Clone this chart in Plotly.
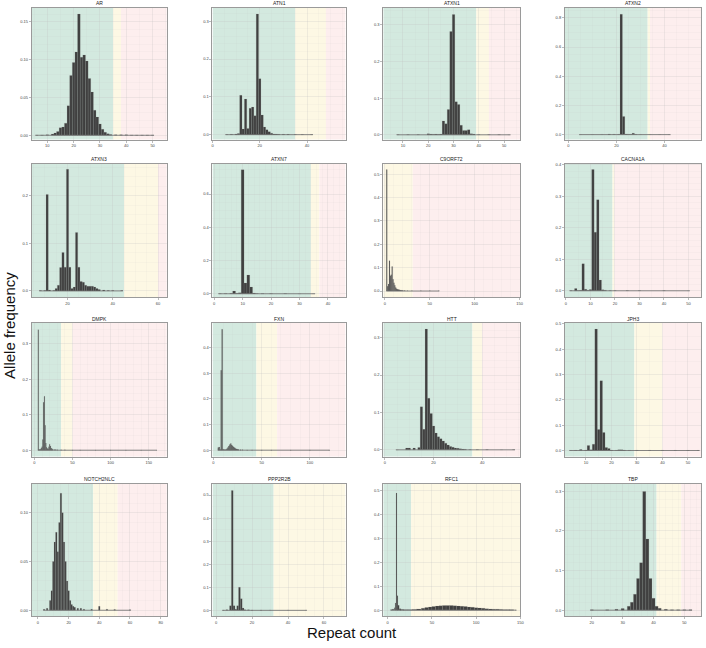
import plotly.graph_objects as go

W, H = 706, 648
COLS = [(31, 167), (213, 347), (385, 523), (568, 705)]
ROWS = [(6, 138), (162, 296), (322, 456), (483, 616)]

GREEN = "#d3e9df"
YELLOW = "#fdf8e4"
PINK = "#fdeeee"
BAR = "#404040"

# ---------------- data ----------------
AR_x = [6, 8, 10, 12, 13, 14, 15, 16, 17, 18, 19, 20, 21, 22, 23, 24, 25, 26, 27, 28, 29, 30, 31, 32, 33, 34, 36, 38, 40, 42, 44, 46, 48, 50]
AR_y = [0.0005, 0.0005, 0.0008, 0.0015, 0.003, 0.005, 0.010, 0.011, 0.016, 0.039, 0.079, 0.096, 0.110, 0.160, 0.103, 0.106, 0.098, 0.075, 0.057, 0.033, 0.024, 0.015, 0.008, 0.004, 0.002, 0.001, 0.0008, 0.0006, 0.0006, 0.0005, 0.0005, 0.0005, 0.0004, 0.0004]

ATN1_x = [6, 8, 10, 11, 12, 13, 14, 15, 16, 17, 18, 19, 20, 21, 22, 23, 24, 25, 26, 27, 28, 30, 32, 35, 38, 42]
ATN1_y = [0.0005, 0.001, 0.002, 0.003, 0.104, 0.015, 0.094, 0.016, 0.070, 0.073, 0.050, 0.319, 0.148, 0.052, 0.020, 0.013, 0.008, 0.004, 0.002, 0.0015, 0.001, 0.001, 0.0008, 0.0006, 0.0005, 0.0004]

ATXN1_x = [8, 12, 16, 20, 21, 22, 23, 24, 25, 26, 27, 28, 29, 30, 31, 32, 33, 34, 35, 36, 37, 38, 40, 44, 48, 52]
ATXN1_y = [0.0005, 0.0005, 0.0008, 0.003, 0.002, 0.0015, 0.002, 0.0015, 0.002, 0.038, 0.030, 0.069, 0.282, 0.328, 0.090, 0.083, 0.026, 0.012, 0.012, 0.014, 0.003, 0.002, 0.001, 0.0006, 0.0005, 0.0004]

ATXN2_x = [5, 10, 14, 17, 19, 21, 22, 23, 24, 25, 26, 27, 28, 30, 34, 38, 42]
ATXN2_y = [0.0008, 0.001, 0.0015, 0.004, 0.003, 0.002, 0.825, 0.125, 0.005, 0.003, 0.002, 0.010, 0.002, 0.001, 0.001, 0.0008, 0.0008]

ATXN3_x = [8, 10, 11, 12, 14, 15, 16, 17, 18, 19, 20, 21, 22, 23, 24, 25, 26, 27, 28, 29, 30, 31, 32, 33, 34, 36, 38, 40, 44]
ATXN3_y = [0.001, 0.001, 0.203, 0.002, 0.001, 0.005, 0.012, 0.049, 0.081, 0.050, 0.256, 0.050, 0.005, 0.008, 0.123, 0.050, 0.020, 0.018, 0.012, 0.010, 0.010, 0.010, 0.008, 0.005, 0.003, 0.002, 0.001, 0.001, 0.0008]

ATXN7_x = [2, 4, 6, 7, 8, 9, 10, 11, 12, 13, 14, 15, 17, 20, 25, 30, 35]
ATXN7_y = [0.001, 0.002, 0.003, 0.016, 0.003, 0.006, 0.747, 0.065, 0.113, 0.041, 0.004, 0.002, 0.001, 0.001, 0.001, 0.0008, 0.0008]

C9ORF72_x = [2, 3, 4, 5, 6, 7, 8, 9, 10, 11, 12, 13, 14, 15, 16, 17, 18, 19, 20, 22, 25, 30, 40, 50, 60]
C9ORF72_y = [0.52, 0.02, 0.03, 0.13, 0.065, 0.07, 0.105, 0.05, 0.035, 0.025, 0.015, 0.01, 0.008, 0.006, 0.005, 0.004, 0.003, 0.003, 0.002, 0.002, 0.0015, 0.001, 0.001, 0.0008, 0.0008]

CACNA1A_x = [2, 4, 5, 6, 7, 8, 9, 10, 11, 12, 13, 14, 15, 16, 18, 20, 25, 30, 40, 50]
CACNA1A_y = [0.001, 0.007, 0.001, 0.002, 0.086, 0.005, 0.002, 0.004, 0.385, 0.186, 0.289, 0.034, 0.003, 0.002, 0.001, 0.001, 0.0008, 0.0008, 0.0006, 0.0005]

DMPK_x = [5, 6, 7, 8, 9, 10, 11, 12, 13, 14, 15, 16, 17, 18, 19, 20, 21, 22, 23, 24, 26, 28, 30, 35, 40, 50, 60, 80, 100, 120, 140, 160]
DMPK_y = [0.339, 0.003, 0.002, 0.003, 0.006, 0.01, 0.03, 0.135, 0.152, 0.07, 0.02, 0.008, 0.005, 0.004, 0.01, 0.017, 0.012, 0.006, 0.004, 0.003, 0.002, 0.002, 0.0015, 0.001, 0.001, 0.0008, 0.0008, 0.0006, 0.0006, 0.0005, 0.0005, 0.0005]

FXN_x = [5, 6, 7, 8, 9, 10, 11, 12, 13, 14, 15, 16, 17, 18, 19, 20, 21, 22, 23, 24, 25, 26, 28, 30, 35, 40, 50, 60, 80, 100, 120]
FXN_y = [0.01, 0.012, 0.003, 0.311, 0.471, 0.004, 0.003, 0.002, 0.003, 0.006, 0.01, 0.016, 0.022, 0.026, 0.02, 0.016, 0.012, 0.009, 0.007, 0.005, 0.004, 0.003, 0.002, 0.002, 0.001, 0.001, 0.0008, 0.0008, 0.0006, 0.0005, 0.0005]

HTT_x = [5, 9, 10, 12, 14, 15, 16, 17, 18, 19, 20, 21, 22, 23, 24, 25, 26, 27, 28, 29, 30, 31, 32, 33, 35, 38, 42, 48, 53]
HTT_y = [0.0005, 0.005, 0.005, 0.005, 0.006, 0.115, 0.055, 0.323, 0.138, 0.097, 0.064, 0.045, 0.035, 0.030, 0.024, 0.018, 0.013, 0.009, 0.007, 0.005, 0.004, 0.003, 0.002, 0.0015, 0.001, 0.0008, 0.0008, 0.0006, 0.0008]

JPH3_x = [4, 6, 8, 10, 11, 12, 13, 14, 15, 16, 17, 18, 19, 20, 22, 23, 24, 25, 27, 30, 35, 40, 45, 50, 54]
JPH3_y = [0.0005, 0.001, 0.004, 0.002, 0.02, 0.003, 0.025, 0.479, 0.083, 0.275, 0.071, 0.012, 0.008, 0.002, 0.001, 0.003, 0.003, 0.002, 0.001, 0.001, 0.0008, 0.0008, 0.0008, 0.0006, 0.0006]

NOTCH2NLC_x = [4, 6, 8, 9, 10, 11, 12, 13, 14, 15, 16, 17, 18, 19, 20, 21, 22, 23, 24, 26, 28, 30, 35, 40, 45, 50, 60]
NOTCH2NLC_y = [0.001, 0.002, 0.01, 0.02, 0.05, 0.07, 0.08, 0.06, 0.09, 0.12, 0.10, 0.07, 0.05, 0.03, 0.02, 0.01, 0.006, 0.004, 0.003, 0.002, 0.002, 0.001, 0.001, 0.004, 0.001, 0.0008, 0.0006]

PPP2R2B_x = [4, 6, 8, 9, 10, 11, 12, 13, 14, 15, 16, 18, 20, 25, 30, 40, 50]
PPP2R2B_y = [0.001, 0.003, 0.02, 0.52, 0.02, 0.005, 0.02, 0.1, 0.05, 0.01, 0.003, 0.002, 0.001, 0.001, 0.0008, 0.0006, 0.0005]

RFC1_x = [4, 6, 8, 9, 10, 11, 12, 14, 16, 20, 25, 30, 35, 40, 44, 48, 52, 56, 60, 64, 68, 72, 76, 80, 84, 88, 92, 96, 100, 104, 108, 112, 116, 120, 124, 128, 132, 136, 140, 145]
RFC1_y = [0.002, 0.004, 0.01, 0.03, 0.49, 0.06, 0.02, 0.006, 0.003, 0.002, 0.002, 0.003, 0.005, 0.008, 0.011, 0.013, 0.015, 0.017, 0.018, 0.019, 0.019, 0.019, 0.018, 0.017, 0.016, 0.015, 0.013, 0.012, 0.010, 0.009, 0.008, 0.006, 0.005, 0.004, 0.004, 0.003, 0.002, 0.002, 0.0015, 0.001]

TBP_x = [20, 25, 28, 30, 32, 33, 34, 35, 36, 37, 38, 39, 40, 41, 42, 44, 46, 48, 50, 52]
TBP_y = [0.001, 0.001, 0.002, 0.004, 0.01, 0.02, 0.04, 0.08, 0.12, 0.3, 0.18, 0.08, 0.03, 0.01, 0.005, 0.002, 0.001, 0.001, 0.001, 0.0008]

# name, x, y, xrange, xticks, yrange, yticks, yfmt, normal_max, pathogenic_min
PANELS = [
    ("AR", AR_x, AR_y, [4.1, 55.4], [10, 20, 30, 40, 50], [-0.0057, 0.168], [0, 0.05, 0.10, 0.15], ".2f", 35, 38),
    ("ATN1", ATN1_x, ATN1_y, [0, 56.3], [0, 20, 40], [-0.013, 0.335], [0, 0.1, 0.2, 0.3], ".1f", 35, 48),
    ("ATXN1", ATXN1_x, ATXN1_y, [2.2, 56.4], [10, 20, 30, 40, 50], [-0.013, 0.346], [0, 0.1, 0.2, 0.3], ".1f", 39, 44),
    ("ATXN2", ATXN2_x, ATXN2_y, [-1.4, 55.2], [0, 20, 40], [-0.034, 0.868], [0, 0.2, 0.4, 0.6, 0.8], ".1f", 33, 34),
    ("ATXN3", ATXN3_x, ATXN3_y, [4.2, 63.9], [20, 40, 60], [-0.013, 0.268], [0, 0.1, 0.2], ".1f", 45, 60),
    ("ATXN7", ATXN7_x, ATXN7_y, [-0.6, 46.2], [0, 10, 20, 30, 40], [-0.02, 0.784], [0, 0.2, 0.4, 0.6], ".1f", 34, 37),
    ("C9ORF72", C9ORF72_x, C9ORF72_y, [-1.9, 150.8], [0, 50, 100, 150], [-0.026, 0.546], [0, 0.1, 0.2, 0.3, 0.4, 0.5], ".1f", -1.9, 31),
    ("CACNA1A", CACNA1A_x, CACNA1A_y, [-0.4, 55.1], [0, 10, 20, 30, 40, 50], [-0.02, 0.404], [0, 0.1, 0.2, 0.3, 0.4], ".1f", 19, 19.8),
    ("DMPK", DMPK_x, DMPK_y, [-3.5, 173.7], [0, 50, 100, 150], [-0.018, 0.358], [0, 0.1, 0.2, 0.3], ".1f", 35, 50),
    ("FXN", FXN_x, FXN_y, [-1, 136.9], [0, 50, 100], [-0.025, 0.495], [0, 0.1, 0.2, 0.3, 0.4], ".1f", 44.5, 66),
    ("HTT", HTT_x, HTT_y, [-0.7, 55.7], [0, 20, 40], [-0.018, 0.339], [0, 0.1, 0.2, 0.3], ".1f", 36, 40),
    ("JPH3", JPH3_x, JPH3_y, [1.8, 55.1], [10, 20, 30, 40, 50], [-0.024, 0.503], [0, 0.1, 0.2, 0.3, 0.4, 0.5], ".1f", 29, 40),
    ("NOTCH2NLC", NOTCH2NLC_x, NOTCH2NLC_y, [-4, 84], [0, 20, 40, 60, 80], [-0.006, 0.13], [0, 0.05, 0.10], ".2f", 36, 52),
    ("PPP2R2B", PPP2R2B_x, PPP2R2B_y, [-2, 72], [0, 20, 40, 60], [-0.025, 0.55], [0, 0.1, 0.2, 0.3, 0.4, 0.5], ".1f", 32, 200),
    ("RFC1", RFC1_x, RFC1_y, [-5, 150], [0, 50, 100, 150], [-0.025, 0.53], [0, 0.1, 0.2, 0.3, 0.4, 0.5], ".1f", 26.5, 400),
    ("TBP", TBP_x, TBP_y, [11.3, 55.4], [20, 30, 40, 50], [-0.015, 0.32], [0, 0.1, 0.2, 0.3], ".1f", 41, 49),
]
# panels whose sparse low-level listing represents a continuous run of bins
CONTIGUOUS = {"RFC1"}

fig = go.Figure()
shapes = []
annotations = []
layout = {}

for i, (name, xs, ys, xr, xt, yr, yt, yfmt, nmax, pmin) in enumerate(PANELS):
    r, c = divmod(i, 4)
    n = i + 1
    xa = "x" if n == 1 else f"x{n}"
    ya = "y" if n == 1 else f"y{n}"
    x0p, x1p = COLS[c]
    y0p, y1p = ROWS[r]
    dom_x = [x0p / W, x1p / W]
    dom_y = [1 - y1p / H, 1 - y0p / H]

    if name in CONTIGUOUS:
        widths = [min(max(xs[k + 1] - xs[k], 1), 5) for k in range(len(xs) - 1)] + [1]
    else:
        widths = [1] * len(xs)

    # thin baseline spanning the observed repeat range (near-zero bins)
    fig.add_trace(go.Scatter(
        x=[min(xs) - 0.5, max(xs) + 0.5], y=[0, 0], xaxis=xa, yaxis=ya, mode="lines",
        line=dict(color="#6a6a6a", width=0.8), showlegend=False, hoverinfo="skip",
    ))
    fig.add_trace(go.Bar(
        x=xs, y=ys, width=widths, xaxis=xa, yaxis=ya,
        marker=dict(color=BAR, line=dict(color="rgba(140,140,140,0.5)", width=0.3)),
        showlegend=False, hoverinfo="x+y",
    ))

    axis_common = dict(
        showline=True, mirror=True, linecolor="#9a9a9a", linewidth=1,
        showgrid=True, gridcolor="rgba(190,190,190,0.35)", gridwidth=0.5,
        zeroline=False, ticks="outside", ticklen=2, tickwidth=0.5, tickcolor="#777",
        tickfont=dict(size=4, color="#444", family="Liberation Sans"),
    )
    layout["xaxis" if n == 1 else f"xaxis{n}"] = dict(
        axis_common, domain=dom_x, range=xr, tickvals=xt, anchor=ya,
        minor=dict(showgrid=True, gridcolor="rgba(190,190,190,0.2)", gridwidth=0.4),
    )
    layout["yaxis" if n == 1 else f"yaxis{n}"] = dict(
        axis_common, domain=dom_y, range=yr, tickvals=yt, tickformat=yfmt, anchor=xa,
        minor=dict(showgrid=True, gridcolor="rgba(190,190,190,0.2)", gridwidth=0.4),
    )

    zones = [(xr[0], nmax, GREEN), (nmax, pmin, YELLOW), (pmin, xr[1], PINK)]
    for a, b, col in zones:
        a2, b2 = max(a, xr[0]), min(b, xr[1])
        if b2 > a2:
            shapes.append(dict(type="rect", xref=xa, yref=f"{ya} domain",
                               x0=a2, x1=b2, y0=0, y1=1, fillcolor=col,
                               line=dict(width=0), layer="below"))

    annotations.append(dict(text=name, x=(x0p + x1p) / 2 / W, y=1 - (y0p - 0.5) / H,
                            xref="paper", yref="paper", xanchor="center", yanchor="bottom",
                            borderpad=0, showarrow=False,
                            font=dict(size=5, color="#222", family="Liberation Sans")))

annotations.append(dict(text="Allele frequency", x=8 / W, y=0.5, xref="paper", yref="paper",
                        textangle=-90, showarrow=False, xanchor="center", yanchor="middle",
                        font=dict(size=15, color="#111", family="Liberation Sans")))
annotations.append(dict(text="Repeat count", x=353 / W, y=1 - 632 / H, xref="paper", yref="paper",
                        showarrow=False, xanchor="center", yanchor="middle",
                        font=dict(size=15, color="#111", family="Liberation Sans")))

fig.update_layout(
    width=W, height=H, margin=dict(l=0, r=0, t=0, b=0),
    paper_bgcolor="white", plot_bgcolor="white", hovermode=False,
    bargap=0, shapes=shapes, annotations=annotations, **layout,
)
fig.write_html("out.html", config={"displayModeBar": False, "staticPlot": True},
               post_script="document.body.style.margin='0px';document.body.style.padding='0px';")
